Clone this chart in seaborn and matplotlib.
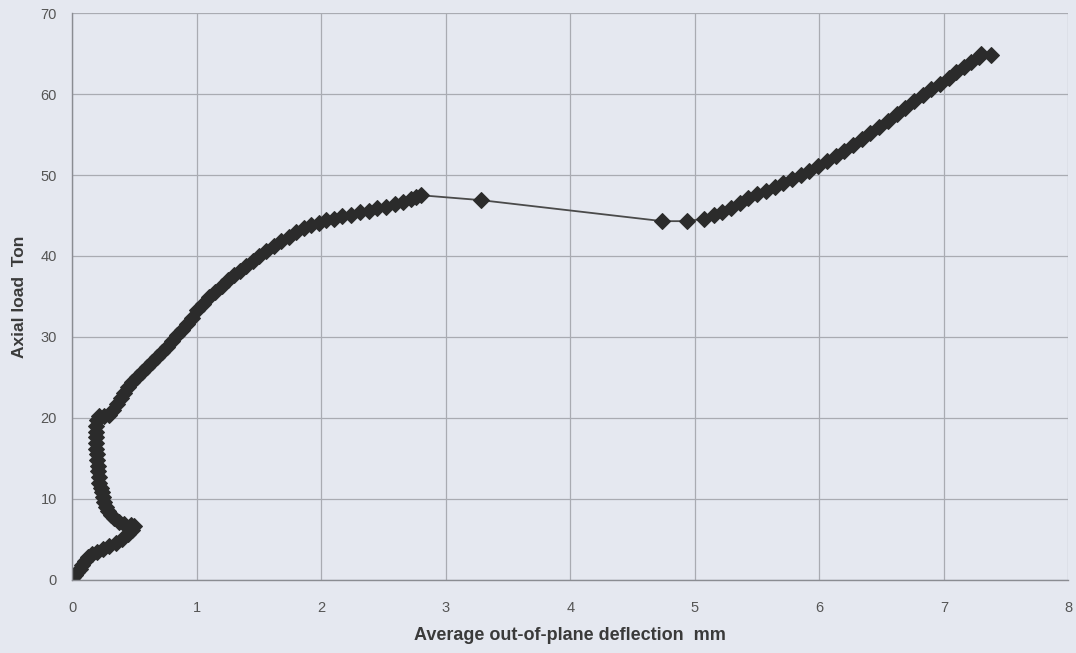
import seaborn as sns
import pandas as pd
import matplotlib.pyplot as plt

# deflection (mm) and axial load (ton) in loading order
deflection = [0.0, 0.01, 0.02, 0.04, 0.06, 0.08, 0.10, 0.13, 0.16, 0.20, 0.25, 0.30, 0.35, 0.40, 0.45, 0.48, 0.50,
              0.47, 0.42, 0.38, 0.34, 0.31, 0.29, 0.27, 0.26, 0.25, 0.24, 0.23, 0.22, 0.22, 0.21, 0.21, 0.20, 0.20,
              0.19, 0.19, 0.19, 0.19, 0.19, 0.20, 0.22, 0.26,
              0.30, 0.33, 0.36, 0.39, 0.42, 0.45, 0.48, 0.52, 0.56, 0.60, 0.64, 0.68, 0.72, 0.76, 0.80, 0.84, 0.88,
              0.92, 0.96, 1.00, 1.05, 1.10, 1.15, 1.20, 1.25, 1.30, 1.35, 1.40, 1.45, 1.50, 1.56, 1.62, 1.68, 1.74,
              1.80, 1.86, 1.92, 1.98, 2.04, 2.10, 2.17, 2.24, 2.31, 2.38, 2.45, 2.52, 2.59, 2.66, 2.72, 2.76, 2.80,
              3.28, 4.74, 4.94,
              5.07, 5.15, 5.22, 5.29, 5.36, 5.43, 5.50, 5.57, 5.64, 5.71, 5.78, 5.85, 5.92, 5.99, 6.06, 6.13, 6.20,
              6.27, 6.34, 6.41, 6.48, 6.55, 6.62, 6.69, 6.76, 6.83, 6.90, 6.97, 7.04, 7.10, 7.16, 7.22, 7.28, 7.30,
              7.38]
load = [0.0, 0.3, 0.6, 1.0, 1.4, 1.8, 2.3, 2.8, 3.2, 3.5, 3.8, 4.2, 4.6, 5.1, 5.7, 6.2, 6.6,
        6.8, 6.9, 7.2, 7.6, 8.0, 8.5, 9.0, 9.6, 10.2, 10.8, 11.4, 12.0, 12.7, 13.4, 14.1, 14.8, 15.5,
        16.2, 16.9, 17.6, 18.3, 19.0, 19.7, 20.2, 20.2,
        20.4, 21.0, 21.7, 22.4, 23.1, 23.8, 24.4, 25.1, 25.7, 26.3, 26.9, 27.5, 28.1, 28.8, 29.5, 30.2, 30.9,
        31.6, 32.4, 33.3, 34.1, 34.9, 35.6, 36.3, 37.0, 37.6, 38.2, 38.8, 39.4, 40.0, 40.6, 41.2, 41.8, 42.4,
        42.9, 43.4, 43.8, 44.1, 44.4, 44.6, 44.9, 45.1, 45.4, 45.6, 45.9, 46.1, 46.4, 46.7, 47.0, 47.3, 47.5,
        46.9, 44.3, 44.3,
        44.6, 45.0, 45.4, 45.9, 46.6, 47.1, 47.6, 48.0, 48.5, 49.0, 49.5, 50.0, 50.5, 51.1, 51.7, 52.3, 53.0,
        53.7, 54.4, 55.2, 55.9, 56.7, 57.5, 58.3, 59.1, 59.9, 60.6, 61.3, 62.0, 62.7, 63.3, 64.0, 64.6, 64.9,
        64.8]

df = pd.DataFrame({"deflection": deflection, "load": load})

sns.set_style("whitegrid")
plt.rcParams["font.family"] = ["Liberation Sans", "DejaVu Sans"]

bg = "#e5e8f0"
fig = plt.figure(figsize=(10.76, 6.53), dpi=100, facecolor=bg)
ax = fig.add_axes([0.067, 0.112, 0.926, 0.868])
ax.set_facecolor(bg)

sns.lineplot(data=df, x="deflection", y="load", sort=False, estimator=None, ax=ax,
             color="#4a4a4a", linewidth=1.3, marker="D", markersize=8,
             markerfacecolor="#2b2b2b", markeredgecolor="#2b2b2b")

ax.set_xlim(0, 8)
ax.set_ylim(0, 70)
ax.set_xticks(range(0, 9))
ax.set_yticks(range(0, 71, 10))
ax.grid(True, color="#a9abb2", linewidth=0.9)
for side in ["top", "right"]:
    ax.spines[side].set_visible(False)
for side in ["left", "bottom"]:
    ax.spines[side].set_color("#8a8c92")
    ax.spines[side].set_linewidth(1.0)
ax.tick_params(axis="both", labelsize=10.5, colors="#555555", length=4, width=0.8, direction="out")
ax.tick_params(axis="both", color="#8a8c92")
ax.tick_params(axis="x", pad=11)
ax.tick_params(axis="y", pad=7)

ax.set_xlabel("Average out-of-plane deflection  mm", fontsize=13, fontweight="bold", color="#3a3a3a", labelpad=9)
ax.set_ylabel("Axial load  Ton", fontsize=12.5, fontweight="bold", color="#3a3a3a", labelpad=10)

fig.savefig("out.png", dpi=100, facecolor=bg)
